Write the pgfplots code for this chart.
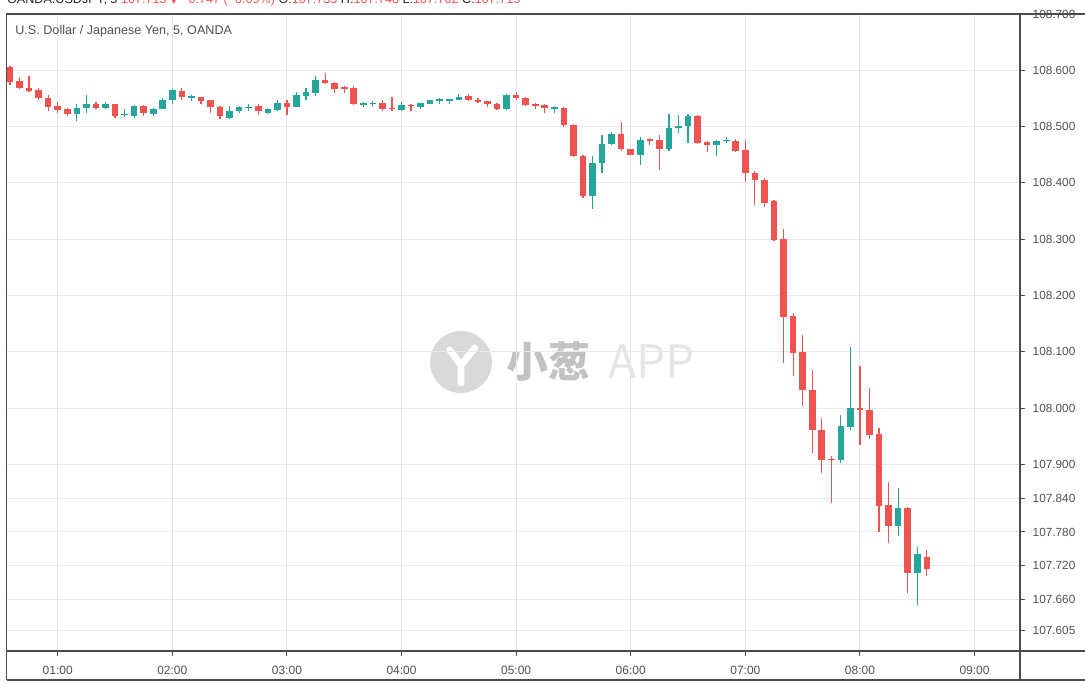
\documentclass[border=0pt]{standalone}
\usepackage{pgfplots}
\pgfplotsset{compat=1.18}
\usepackage{pgfplotstable}
\usepackage{fontspec}
\setmainfont{Liberation Sans}
\newfontfamily\cjk{Noto Sans CJK SC}
\newfontfamily\dejavu{DejaVu Sans}
\definecolor{cred}{RGB}{239,83,80}
\definecolor{cgreen}{RGB}{38,166,154}
\definecolor{frm}{RGB}{75,75,75}
\definecolor{txt}{RGB}{80,80,80}
\definecolor{grd}{RGB}{230,233,236}

\pgfplotstableread{
t o h l c
35 108.606 108.608 108.574 108.580
40 108.581 108.588 108.567 108.568
45 108.568 108.590 108.561 108.564
50 108.565 108.568 108.548 108.550
55 108.550 108.556 108.527 108.535
60 108.537 108.543 108.525 108.529
65 108.531 108.533 108.518 108.522
80 108.540 108.543 108.531 108.533
90 108.540 108.541 108.515 108.518
105 108.537 108.538 108.519 108.524
125 108.564 108.568 108.547 108.552
135 108.552 108.553 108.540 108.546
140 108.547 108.548 108.525 108.534
145 108.535 108.537 108.513 108.518
165 108.537 108.541 108.521 108.527
180 108.542 108.547 108.521 108.535
200 108.583 108.596 108.576 108.577
205 108.578 108.580 108.560 108.566
210 108.568 108.572 108.560 108.567
215 108.568 108.572 108.538 108.540
230 108.542 108.547 108.527 108.531
235 108.532 108.553 108.527 108.531
245 108.538 108.540 108.527 108.536
275 108.554 108.558 108.546 108.548
280 108.548 108.550 108.542 108.544
285 108.545 108.546 108.534 108.541
290 108.541 108.542 108.529 108.531
300 108.557 108.562 108.548 108.550
305 108.550 108.552 108.537 108.538
310 108.540 108.542 108.531 108.537
315 108.538 108.540 108.524 108.533
325 108.533 108.535 108.499 108.503
330 108.503 108.504 108.446 108.447
335 108.448 108.450 108.373 108.377
355 108.487 108.509 108.457 108.460
360 108.461 108.461 108.449 108.450
370 108.476 108.479 108.467 108.475
375 108.476 108.485 108.423 108.460
395 108.519 108.520 108.469 108.470
400 108.473 108.474 108.454 108.467
415 108.475 108.478 108.455 108.457
420 108.458 108.476 108.402 108.417
425 108.418 108.421 108.361 108.405
430 108.406 108.409 108.358 108.365
435 108.367 108.369 108.296 108.299
440 108.300 108.318 108.080 108.162
445 108.164 108.169 108.057 108.098
450 108.100 108.130 108.004 108.033
455 108.033 108.068 107.920 107.962
460 107.962 107.980 107.884 107.908
465 107.910 107.915 107.831 107.908
480 108.001 108.074 107.934 107.996
485 107.997 108.035 107.946 107.952
490 107.954 107.964 107.780 107.826
495 107.828 107.869 107.760 107.791
505 107.823 107.824 107.671 107.707
515 107.735 107.748 107.702 107.715
}\downtab

\pgfplotstableread{
t o h l c
70 108.522 108.540 108.510 108.533
75 108.533 108.557 108.525 108.540
85 108.533 108.544 108.532 108.541
95 108.520 108.531 108.517 108.521
100 108.518 108.538 108.515 108.537
110 108.522 108.533 108.519 108.531
115 108.531 108.550 108.531 108.547
120 108.547 108.566 108.541 108.565
130 108.551 108.556 108.546 108.552
150 108.515 108.537 108.514 108.528
155 108.527 108.537 108.524 108.534
160 108.533 108.540 108.527 108.534
170 108.525 108.533 108.522 108.531
175 108.529 108.548 108.528 108.542
185 108.535 108.562 108.534 108.556
190 108.554 108.568 108.548 108.562
195 108.560 108.590 108.554 108.583
220 108.539 108.544 108.535 108.540
225 108.540 108.546 108.535 108.541
240 108.529 108.544 108.527 108.538
250 108.534 108.542 108.531 108.542
255 108.541 108.548 108.540 108.547
260 108.546 108.550 108.541 108.547
265 108.546 108.548 108.540 108.547
270 108.548 108.558 108.547 108.553
295 108.531 108.558 108.529 108.556
320 108.532 108.537 108.525 108.533
340 108.377 108.448 108.353 108.435
345 108.435 108.485 108.418 108.469
350 108.469 108.491 108.467 108.487
365 108.450 108.482 108.432 108.476
380 108.460 108.522 108.457 108.497
385 108.497 108.521 108.488 108.501
390 108.501 108.522 108.470 108.519
405 108.467 108.476 108.448 108.475
410 108.474 108.482 108.470 108.475
470 107.907 107.988 107.903 107.968
475 107.967 108.109 107.962 108.001
500 107.791 107.858 107.773 107.822
510 107.707 107.753 107.650 107.741
}\uptab

\begin{document}
\begin{tikzpicture}
\useasboundingbox (-3.35pt,-17.5pt) rectangle (539.15pt,325.5pt);
\clip (-3.35pt,-17.5pt) rectangle (539.15pt,325.5pt);
% watermark
\fill[black!15] (227.15pt,144.5pt) circle (15.5pt);
\draw[white, line width=3.4pt, line cap=round, line join=round]
  (221.5pt,150.5pt) -- (227.15pt,143pt) -- (234pt,151.5pt)
  (227.15pt,143pt) -- (227.15pt,134pt);
\node[font=\cjk\bfseries\fontsize{21}{24}\selectfont, text=black!24, anchor=center] at (271pt,144.5pt) {小葱};
\node[font=\cjk\fontsize{23}{26}\selectfont, text=black!10, anchor=center] at (322.5pt,144.5pt) {APP};
\begin{axis}[
  at={(0pt,0pt)}, anchor=south west,
  scale only axis, width=506.65pt, height=318.5pt,
  xmin=33.3, xmax=563.8, ymin=107.5686, ymax=108.700,
  axis line style={draw=frm, line width=0.55pt},
  xtick={60,120,180,240,300,360,420,480,540},
  xticklabels={01:00,02:00,03:00,04:00,05:00,06:00,07:00,08:00,09:00},
  ytick={107.605,107.66,107.72,107.78,107.84,107.9,108.0,108.1,108.2,108.3,108.4,108.5,108.6,108.7},
  xtick pos=bottom, ytick pos=right, yticklabel pos=right,
  tick align=outside, major tick length=2.5pt,
  tick style={draw=frm, line width=0.5pt},
  grid=major, major grid style={draw=grd, line width=0.5pt},
  yticklabel style={/pgf/number format/.cd, fixed, fixed zerofill, precision=3, assume math mode=true, /tikz/.cd, anchor=west, xshift=0.3pt, font=\fontsize{5.9}{7}\selectfont, text=txt},
  xticklabel style={font=\fontsize{6}{7}\selectfont, text=txt, yshift=-1.5pt},
  clip=true,
]
\addplot[draw=none, mark=none, forget plot, error bars/.cd, y dir=plus, y explicit, error mark=none,
  error bar style={draw=cred, line width=0.6pt}]
  table[x=t, y=l, y error plus expr={\thisrow{h}-\thisrow{l}}] {\downtab};
\addplot[draw=none, mark=none, forget plot, error bars/.cd, y dir=plus, y explicit, error mark=none,
  error bar style={draw=cgreen, line width=0.6pt}]
  table[x=t, y=l, y error plus expr={\thisrow{h}-\thisrow{l}}] {\uptab};
\addplot[draw=none, mark=none, forget plot, error bars/.cd, y dir=plus, y explicit, error mark=none,
  error bar style={draw=cred, line width=3.3pt}]
  table[x=t, y=c, y error plus expr={max(\thisrow{o}-\thisrow{c},0.0025)}] {\downtab};
\addplot[draw=none, mark=none, forget plot, error bars/.cd, y dir=plus, y explicit, error mark=none,
  error bar style={draw=cgreen, line width=3.3pt}]
  table[x=t, y=o, y error plus expr={max(\thisrow{c}-\thisrow{o},0.0025)}] {\uptab};
\end{axis}
% frame
\draw[frm, line width=0.55pt] (0pt,-14.5pt) -- (0pt,318.5pt) -- (539.15pt,318.5pt);
\draw[frm, line width=0.55pt] (0pt,-14.5pt) -- (539.15pt,-14.5pt);
\draw[frm, line width=0.55pt] (0pt,0pt) -- (539.15pt,0pt);
\draw[frm, line width=0.55pt] (506.65pt,-14.5pt) -- (506.65pt,318.5pt);
% title and header
\node[anchor=base west, inner sep=0pt, font=\fontsize{6.3}{7.5}\selectfont, text=txt] at (4.15pt,308pt) {U.S. Dollar / Japanese Yen, 5, OANDA};
\node[anchor=base west, inner sep=0pt, font=\fontsize{6.3}{7.5}\selectfont, text=black!85] at (0pt,323.5pt)
  {OANDA:USDJPY, 5 \textcolor{cred}{107.715 {\dejavu\fontsize{5}{6}\selectfont ▼} −0.747 (−0.69\%)} O:\textcolor{cred}{107.735} H:\textcolor{cred}{107.748} L:\textcolor{cred}{107.702} C:\textcolor{cred}{107.715}};
\end{tikzpicture}
\end{document}
